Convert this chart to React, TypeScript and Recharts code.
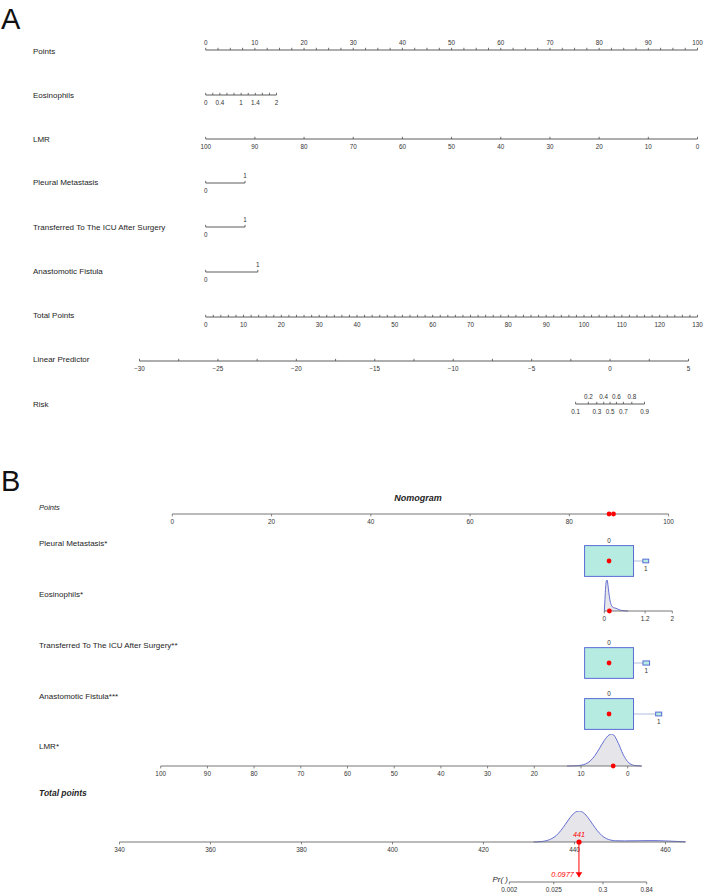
import React from 'react';
import { ComposedChart, XAxis, YAxis, Area, Scatter, ReferenceLine } from 'recharts';

const W = 706;
const H = 892;
const FONT = '"Liberation Sans", Arial, Helvetica, sans-serif';
const RED = '#ff0000';

const logit = (p: number) => Math.log(p / (1 - p));
const seq = (from: number, to: number, by: number) => {
  const out: number[] = [];
  for (let v = from; v <= to + 1e-9; v += by) out.push(Math.round(v * 1000) / 1000);
  return out;
};
const num = (v: number) => String(v).replace('-', '\u2212');
const has = (list: number[], v: number) => list.some((l) => Math.abs(l - v) < 1e-6);

// ---------------- Panel A: classic points nomogram ----------------
const pointsLabelsA = [0, 10, 20, 30, 40, 50, 60, 70, 80, 90, 100];
const eosLabelsA = [0, 0.4, 1, 1.4, 2];
const eosMaxPointsA = 14.4;
const lmrLabelsA = [100, 90, 80, 70, 60, 50, 40, 30, 20, 10, 0];
const binaryLevels = [0, 1];
const pleuralPointsA = [0, 8];
const icuPointsA = [0, 8];
const anastomoticPointsA = [0, 10.6];
const totalLabelsA = [0, 10, 20, 30, 40, 50, 60, 70, 80, 90, 100, 110, 120, 130];
const lpLabelsA = [-30, -25, -20, -15, -10, -5, 0, 5];
const riskLabelsA = [0.1, 0.2, 0.3, 0.4, 0.5, 0.6, 0.7, 0.8, 0.9];

// ---------------- Panel B: regression nomogram with observation ----------------
const pointsLabelsB = [0, 20, 40, 60, 80, 100];
const observedPointsB = [88.0, 88.9];

const pleuralPointsB = [88, 95.4];
const pleuralShare = [0.986, 0.014];
const icuPointsB = [88, 95.5];
const icuShare = [0.982, 0.018];
const anastomoticPointsB = [88, 98.0];
const anastomoticShare = [0.985, 0.015];
const observedLevel = 0;

const eosGrid = [0, 0.02, 0.04, 0.06, 0.08, 0.1, 0.12, 0.15, 0.18, 0.22, 0.27, 0.32, 0.38, 0.45, 0.55, 0.7];
const eosDens = [0, 0.38, 0.78, 0.97, 1.0, 0.9, 0.72, 0.46, 0.28, 0.16, 0.11, 0.095, 0.07, 0.035, 0.012, 0];
const eosLabelsB = [0, 1.2, 2];
const eosObserved = 0.15;

const lmrGrid = [13, 12, 11, 10, 9, 8, 7, 6, 5, 4, 3.4, 3, 2, 1, 0, -1, -2, -3];
const lmrDens = [0, 0.002, 0.007, 0.023, 0.066, 0.16, 0.33, 0.56, 0.8, 0.97, 1.0, 0.97, 0.71, 0.37, 0.135, 0.035, 0.006, 0];
const lmrLabelsB = [100, 90, 80, 70, 60, 50, 40, 30, 20, 10, 0];
const lmrObserved = 3.1;

const totalGrid = [431, 432, 433, 434, 435, 436, 437, 438, 439, 440, 441, 442, 443, 444, 445, 446, 447, 448, 449, 451, 454, 457, 460, 463, 464.4];
const totalDens = [0, 0.005, 0.02, 0.05, 0.11, 0.21, 0.37, 0.57, 0.78, 0.94, 1.0, 0.94, 0.78, 0.57, 0.37, 0.21, 0.11, 0.06, 0.04, 0.035, 0.04, 0.045, 0.035, 0.015, 0.005];
const totalLabelsB = [340, 360, 380, 400, 420, 440, 460];
const totalObserved = 441;

const prLabels = [0.002, 0.025, 0.3, 0.84];
const predictedRisk = 0.0977;

// ---------------- layout ----------------
const pxA = (pts: number) => 205.7 + pts * 4.918;
const pxB = (pts: number) => 172.3 + pts * 4.963;
const LP_DOMAIN: [number, number] = [-30, 5];
const LP_PX: [number, number] = [139.5, 688.5];
const pxLP = (lp: number) => LP_PX[0] + ((lp - LP_DOMAIN[0]) / (LP_DOMAIN[1] - LP_DOMAIN[0])) * (LP_PX[1] - LP_PX[0]);

type TickSpec = { v: number; label?: string; side?: 'above' | 'below' };
type TickStyle = { dir: number; len: number; stroke: string; fill: string; size: number; above: number; below: number };

const tickA: TickStyle = { dir: -1, len: 2.2, stroke: '#4a4a4a', fill: '#333', size: 6.3, above: 7.2, below: 7.9 };
const tickB: TickStyle = { dir: 1, len: 2.4, stroke: '#666', fill: '#333', size: 6.4, above: 7, below: 7 };

function tickRenderer(specs: TickSpec[], st: TickStyle) {
  return (props: any) => {
    const { x, y, payload } = props;
    if (!specs.length) return <g />;
    let spec = specs[0];
    for (const s of specs) if (Math.abs(s.v - payload.value) < Math.abs(spec.v - payload.value)) spec = s;
    return (
      <g>
        <line x1={x} x2={x} y1={y} y2={y + st.dir * st.len} stroke={st.stroke} strokeWidth={0.8} />
        {spec.label !== undefined && (
          <text
            x={x}
            y={spec.side === 'above' ? y - st.above : y + st.below}
            textAnchor="middle"
            dominantBaseline="central"
            fontFamily={FONT}
            fontSize={st.size}
            fill={st.fill}
          >
            {spec.label}
          </text>
        )}
      </g>
    );
  };
}

type RowProps = {
  lineY: number;
  x0: number;
  x1: number;
  domain: [number, number];
  reversed?: boolean;
  specs?: TickSpec[];
  st?: TickStyle;
  plotH?: number;
  bandH?: number;
  yMax?: number;
  data?: any[];
  axis?: boolean;
  axisColor?: string;
  children?: React.ReactNode;
};

// One nomogram scale: a chart whose x axis carries the variable's own units.
function Row({
  lineY, x0, x1, domain, reversed = false, specs = [], st = tickA, plotH = 6, bandH = 16,
  yMax = 1, data, axis = true, axisColor = '#4a4a4a', children,
}: RowProps) {
  const rows = data ?? specs.map((s) => ({ x: s.v, y: 0 }));
  return (
    <div style={{ position: 'absolute', left: 0, top: lineY - plotH }}>
      <ComposedChart width={W} height={plotH + bandH} data={rows} margin={{ top: 0, right: W - x1, bottom: 0, left: x0 }}>
        <XAxis
          type="number"
          dataKey="x"
          domain={domain}
          reversed={reversed}
          hide={!axis}
          ticks={specs.map((s) => s.v)}
          interval={0}
          tickSize={0}
          tickMargin={0}
          height={bandH}
          tickLine={false}
          axisLine={{ stroke: axisColor, strokeWidth: 0.9 }}
          tick={tickRenderer(specs, st)}
        />
        <YAxis type="number" dataKey="y" hide domain={[0, yMax]} />
        {children}
      </ComposedChart>
    </div>
  );
}

const RedDot = (p: any) => <circle cx={p.cx} cy={p.cy} r={2.4} fill={RED} />;

const BOX_W = 49.3;
const BOX_H = 31;
function LevelBox(p: any) {
  const { cx, cy, payload } = p;
  const k = Math.sqrt(payload.share);
  const w = BOX_W * k;
  const h = BOX_H * k;
  const ly = payload.i === 0 ? cy - h / 2 - 5 : cy + h / 2 + 5.5;
  return (
    <g>
      <rect x={cx - w / 2} y={cy - h / 2} width={w} height={h} fill="#b5ebe1" stroke="#5b6bd6" strokeWidth={1} />
      <text x={cx} y={ly} textAnchor="middle" dominantBaseline="central" fontSize={6.4} fill="#333" fontFamily={FONT}>
        {payload.label}
      </text>
    </g>
  );
}

function TotalMark(p: any) {
  return (
    <g>
      <circle cx={p.cx} cy={p.cy} r={2.6} fill={RED} />
      <text x={p.cx} y={p.cy - 7.5} textAnchor="middle" dominantBaseline="central" fontStyle="italic" fontSize={7.2} fill={RED} fontFamily={FONT}>
        {p.payload.label}
      </text>
    </g>
  );
}

function RiskArrow(p: any) {
  const { cx, cy } = p;
  return (
    <g>
      <path d={`M${cx - 3.4},${cy - 5} L${cx + 3.4},${cy - 5} L${cx},${cy} Z`} fill={RED} />
      <text x={cx - 5} y={cy - 3} textAnchor="end" dominantBaseline="central" fontStyle="italic" fontSize={7.4} fill={RED} fontFamily={FONT}>
        {p.payload.label}
      </text>
    </g>
  );
}

function BoxRow({ center, points, shares }: { center: number; points: number[]; shares: number[] }) {
  const boxes = binaryLevels.map((lv, i) => ({ x: points[i], y: 0.5, share: shares[i], label: String(lv), i }));
  const obs = [{ x: points[binaryLevels.indexOf(observedLevel)], y: 0.5 }];
  return (
    <Row lineY={center + 26} plotH={52} bandH={0} x0={pxB(0)} x1={pxB(100)} domain={[0, 100]} axis={false} data={boxes}>
      <ReferenceLine segment={[{ x: points[0], y: 0.5 }, { x: points[1], y: 0.5 }]} stroke="#a9b5d8" strokeWidth={0.9} />
      <Scatter data={boxes} dataKey="y" shape={LevelBox} isAnimationActive={false} />
      <Scatter data={obs} dataKey="y" shape={RedDot} isAnimationActive={false} />
    </Row>
  );
}

const density = (xs: number[], ds: number[]) => xs.map((x, i) => ({ x, y: ds[i] }));
const densityArea = (
  <Area type="monotone" dataKey="y" stroke="#5560cf" strokeWidth={0.9} fill="#e6e6ea" fillOpacity={1} dot={false} activeDot={false} isAnimationActive={false} />
);

const binarySpecs = [
  { v: 0, label: '0', side: 'below' as const },
  { v: 1, label: '1', side: 'above' as const },
];

export default function App() {
  const pointsSpecsA: TickSpec[] = seq(0, 100, 2.5).map((v) => ({ v, label: has(pointsLabelsA, v) ? num(v) : undefined, side: 'above' }));
  const eosSpecsA: TickSpec[] = seq(0, 2, 0.2).map((v) => ({ v, label: has(eosLabelsA, v) ? num(v) : undefined, side: 'below' }));
  const lmrSpecsA: TickSpec[] = lmrLabelsA.map((v) => ({ v, label: num(v), side: 'below' }));
  const totalSpecsA: TickSpec[] = seq(0, 130, 2).map((v) => ({ v, label: has(totalLabelsA, v) ? num(v) : undefined, side: 'below' }));
  const lpSpecsA: TickSpec[] = seq(-30, 5, 2.5).map((v) => ({ v, label: has(lpLabelsA, v) ? num(v) : undefined, side: 'below' }));
  const riskSpecsA: TickSpec[] = riskLabelsA.map((r, i) => ({ v: logit(r), label: String(r), side: i % 2 === 0 ? 'below' : 'above' }));
  const riskDomain: [number, number] = [logit(riskLabelsA[0]), logit(riskLabelsA[riskLabelsA.length - 1])];

  const pointsSpecsB: TickSpec[] = pointsLabelsB.map((v) => ({ v, label: num(v), side: 'below' }));
  const eosSpecsB: TickSpec[] = eosLabelsB.map((v) => ({ v, label: num(v), side: 'below' }));
  const lmrSpecsB: TickSpec[] = lmrLabelsB.map((v) => ({ v, label: num(v), side: 'below' }));
  const totalSpecsB: TickSpec[] = totalLabelsB.map((v) => ({ v, label: num(v), side: 'below' }));
  const prSpecs: TickSpec[] = prLabels.map((p) => ({ v: logit(p), label: String(p), side: 'below' }));
  const riskPos = logit(predictedRisk);

  const label = (x: number, y: number, text: string, extra: any = {}) => (
    <text x={x} y={y} dominantBaseline="central" fontSize={8} fill="#1e1e1e" {...extra}>
      {text}
    </text>
  );

  return (
    <div style={{ position: 'absolute', left: 0, top: 0, width: W, height: H, background: '#fff', overflow: 'hidden' }}>
      {/* Panel A */}
      <Row lineY={50} x0={pxA(0)} x1={pxA(100)} domain={[0, 100]} specs={pointsSpecsA} bandH={4} plotH={16} />
      <Row lineY={95} x0={pxA(0)} x1={pxA(eosMaxPointsA)} domain={[0, 2]} specs={eosSpecsA} />
      <Row lineY={139.3} x0={pxA(0)} x1={pxA(100)} domain={[0, 100]} reversed specs={lmrSpecsA} />
      <Row lineY={183.3} x0={pxA(pleuralPointsA[0])} x1={pxA(pleuralPointsA[1])} domain={[0, 1]} specs={binarySpecs} plotH={14} />
      <Row lineY={227.3} x0={pxA(icuPointsA[0])} x1={pxA(icuPointsA[1])} domain={[0, 1]} specs={binarySpecs} plotH={14} />
      <Row lineY={271.7} x0={pxA(anastomoticPointsA[0])} x1={pxA(anastomoticPointsA[1])} domain={[0, 1]} specs={binarySpecs} plotH={14} />
      <Row lineY={316.7} x0={pxA(0)} x1={pxA(100)} domain={[0, 130]} specs={totalSpecsA} />
      <Row lineY={360.8} x0={LP_PX[0]} x1={LP_PX[1]} domain={LP_DOMAIN} specs={lpSpecsA} />
      <Row lineY={403.5} x0={pxLP(riskDomain[0])} x1={pxLP(riskDomain[1])} domain={riskDomain} specs={riskSpecsA} plotH={14} />

      {/* Panel B */}
      <Row lineY={514.3} x0={pxB(0)} x1={pxB(100)} domain={[0, 100]} specs={pointsSpecsB} st={tickB} axisColor="#666">
        <Scatter data={observedPointsB.map((p) => ({ x: p, y: 0 }))} dataKey="y" shape={RedDot} isAnimationActive={false} />
      </Row>
      <BoxRow center={560.7} points={pleuralPointsB} shares={pleuralShare} />
      <Row lineY={611} x0={604.3} x1={672.3} domain={[0, 2]} specs={eosSpecsB} st={tickB} axisColor="#666" plotH={31} yMax={1} data={density(eosGrid, eosDens)}>
        {densityArea}
        <Scatter data={[{ x: eosObserved, y: 0 }]} dataKey="y" shape={RedDot} isAnimationActive={false} />
      </Row>
      <BoxRow center={662.5} points={icuPointsB} shares={icuShare} />
      <BoxRow center={713.8} points={anastomoticPointsB} shares={anastomoticShare} />
      <Row lineY={765.5} x0={160.7} x1={641.7} domain={[-3, 100]} reversed specs={lmrSpecsB} st={tickB} axisColor="#666" plotH={32} yMax={1} data={density(lmrGrid, lmrDens)}>
        {densityArea}
        <Scatter data={[{ x: lmrObserved, y: 0 }]} dataKey="y" shape={RedDot} isAnimationActive={false} />
      </Row>
      <Row lineY={841.7} x0={119.5} x1={685.5} domain={[340, 464.4]} specs={totalSpecsB} st={tickB} axisColor="#666" plotH={31} yMax={1} data={density(totalGrid, totalDens)}>
        {densityArea}
        <Scatter data={[{ x: totalObserved, y: 0, label: String(totalObserved) }]} dataKey="y" shape={TotalMark} isAnimationActive={false} />
      </Row>
      <Row lineY={881.7} x0={509.3} x1={646.7} domain={[logit(0.002), logit(0.84)]} specs={prSpecs} st={tickB} axisColor="#666" plotH={40} yMax={1}>
        <ReferenceLine segment={[{ x: riskPos, y: 0.12 }, { x: riskPos, y: 1 }]} stroke={RED} strokeWidth={1} />
        <Scatter data={[{ x: riskPos, y: 0.12, label: String(predictedRisk) }]} dataKey="y" shape={RiskArrow} isAnimationActive={false} />
      </Row>

      <svg width={W} height={H} style={{ position: 'absolute', left: 0, top: 0, pointerEvents: 'none' }} fontFamily={FONT}>
        <text x={1} y={29} fontSize={29} fill="#111">A</text>
        {label(33, 51.7, 'Points')}
        {label(33, 95, 'Eosinophils')}
        {label(33, 139.3, 'LMR')}
        {label(33, 182.7, 'Pleural Metastasis')}
        {label(33, 227.3, 'Transferred To The ICU After Surgery')}
        {label(33, 271.5, 'Anastomotic Fistula')}
        {label(33, 315.7, 'Total Points')}
        {label(33, 359.5, 'Linear Predictor')}
        {label(33, 404, 'Risk')}

        <text x={1} y={491} fontSize={29} fill="#111">B</text>
        {label(418, 497.5, 'Nomogram', { textAnchor: 'middle', fontWeight: 'bold', fontStyle: 'italic', fontSize: 9 })}
        {label(39, 507.7, 'Points', { fontStyle: 'italic', fontSize: 7.5 })}
        {label(39, 543.3, 'Pleural Metastasis*')}
        {label(39, 594.3, 'Eosinophils*')}
        {label(39, 645.3, 'Transferred To The ICU After Surgery**')}
        {label(39, 696, 'Anastomotic Fistula***')}
        {label(39, 746.7, 'LMR*')}
        {label(39, 793.3, 'Total points', { fontStyle: 'italic', fontWeight: 'bold', fontSize: 8.5 })}
        {label(508, 879, 'Pr( )', { textAnchor: 'end', fontStyle: 'italic', fontSize: 8 })}
      </svg>
    </div>
  );
}
